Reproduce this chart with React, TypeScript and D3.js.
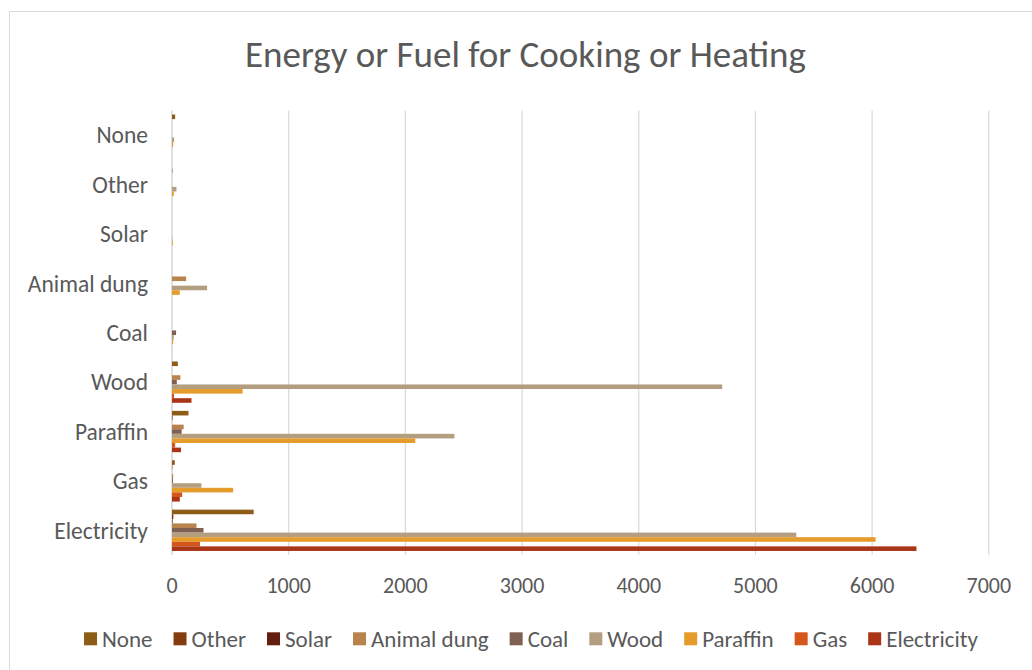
import React from "react";
import * as d3 from "d3";

const categories = ["None", "Other", "Solar", "Animal dung", "Coal", "Wood", "Paraffin", "Gas", "Electricity"];
const seriesNames = ["None", "Other", "Solar", "Animal dung", "Coal", "Wood", "Paraffin", "Gas", "Electricity"];
const seriesColors = ["#8b5d17", "#843c0c", "#641e10", "#b8834d", "#7f6153", "#b39e7f", "#e59c2a", "#d4561b", "#aa3416"];

// values per series, in category order (None ... Electricity)
const sNone = [27, 0, 0, 0, 0, 50, 141, 24, 700];
const sOther = [0, 3, 0, 0, 0, 0, 5, 3, 12];
const sSolar = [0, 0, 0, 0, 0, 0, 0, 0, 5];
const sAnimalDung = [0, 0, 0, 121, 0, 72, 100, 10, 210];
const sCoal = [0, 0, 0, 0, 35, 41, 83, 8, 270];
const sWood = [18, 38, 3, 301, 15, 4715, 2420, 252, 5350];
const sParaffin = [10, 15, 7, 67, 10, 605, 2085, 524, 6030];
const sGas = [0, 0, 0, 0, 0, 17, 27, 87, 240];
const sElectricity = [0, 0, 0, 0, 0, 167, 77, 67, 6380];
const seriesValues = [sNone, sOther, sSolar, sAnimalDung, sCoal, sWood, sParaffin, sGas, sElectricity];

const xTicks = [0, 1000, 2000, 3000, 4000, 5000, 6000, 7000];

const FONT = "Carlito, Calibri, Lato, 'Open Sans', sans-serif";
const TEXT = "#595959";
const GRID = "#d9d9d9";

function measure(text: string, size: number): number {
  if (typeof document === "undefined") return text.length * size * 0.5;
  const c = document.createElement("canvas");
  const ctx = c.getContext("2d");
  if (!ctx) return text.length * size * 0.5;
  ctx.font = `${size}px ${FONT}`;
  return ctx.measureText(text).width;
}

export default function App() {
  const W = 1032, H = 670;
  const x = d3.scaleLinear().domain([0, 7000]).range([172, 988.8]);
  const y = d3.scaleBand<string>().domain(categories).range([110.5, 555]).padding(0);
  const ys = d3.scaleBand<string>().domain(seriesNames).range([0, y.bandwidth()]).paddingInner(0).paddingOuter(0.88);

  // legend layout
  const legFont = 23;
  const sq = 13;
  const gapSqText = 5;
  const gapItem = 21;
  const widths = seriesNames.map((n) => measure(n, legFont));
  const total = widths.reduce((a, w) => a + sq + gapSqText + w, 0) + gapItem * (seriesNames.length - 1);
  let cursor = 531 - total / 2;
  const legendItems = seriesNames.map((n, i) => {
    const item = { name: n, color: seriesColors[i], x: cursor };
    cursor += sq + gapSqText + widths[i] + gapItem;
    return item;
  });
  const legY = 638.8;

  return (
    <svg width={W} height={H} style={{ position: "absolute", left: 0, top: 0, background: "#fff" }} fontFamily={FONT}>
      <rect x={9.5} y={11.5} width={W + 10} height={H + 10} fill="#fff" stroke={GRID} strokeWidth={1} />
      <text x={525.5} y={67} textAnchor="middle" fontSize={37} fill={TEXT}>
        Energy or Fuel for Cooking or Heating
      </text>
      {xTicks.map((t) => (
        <line key={"g" + t} x1={x(t)} x2={x(t)} y1={110.5} y2={555} stroke={GRID} strokeWidth={t === 0 ? 1.6 : 1.2} />
      ))}
      {categories.map((c, ci) =>
        seriesNames.map((s, si) => {
          const v = seriesValues[si][ci];
          if (!v) return null;
          return (
            <rect
              key={c + s}
              x={x(0)}
              y={(y(c) as number) + (ys(s) as number)}
              width={x(v) - x(0)}
              height={ys.bandwidth()}
              fill={seriesColors[si]}
            />
          );
        })
      )}
      {categories.map((c) => (
        <text key={"c" + c} x={148} y={(y(c) as number) + y.bandwidth() / 2} dy="0.35em" textAnchor="end" fontSize={23.5} fill={TEXT}>
          {c}
        </text>
      ))}
      {xTicks.map((t) => (
        <text key={"t" + t} x={x(t)} y={593} textAnchor="middle" fontSize={22} fill={TEXT}>
          {t}
        </text>
      ))}
      {legendItems.map((it) => (
        <g key={"l" + it.name}>
          <rect x={it.x} y={legY - sq / 2} width={sq} height={sq} fill={it.color} />
          <text x={it.x + sq + gapSqText} y={legY} dy="0.35em" fontSize={legFont} fill={TEXT}>
            {it.name}
          </text>
        </g>
      ))}
    </svg>
  );
}
